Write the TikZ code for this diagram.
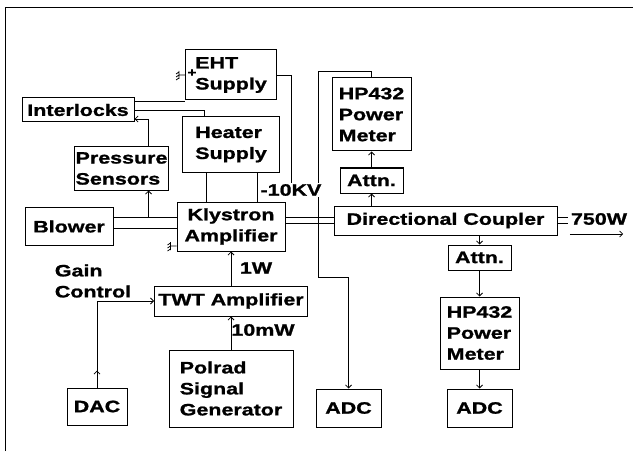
\documentclass[tikz,border=0pt]{standalone}
\usepackage{fontspec}
\newfontfamily\diagfont[FakeStretch=1.3,FakeBold=1.2]{Liberation Sans}
\usetikzlibrary{arrows.meta,calc,positioning}

\begin{document}
\begin{tikzpicture}[x=1pt,y=1pt,inner sep=1pt,font=\diagfont\bfseries\fontsize{16.5}{21}\selectfont,
    >={Straight Barb[length=3pt,width=6pt]},
    blk/.style={draw,line width=1pt,align=left},
    wire/.style={line width=.8pt},
    gnd/.pic={\draw[line width=.7pt] (0,0)--(-6,0) (-6,-4)--(-6,4) (-6,3)--(-9,1) (-6,0)--(-9,-2) (-6,-3)--(-9,-5);}]
        \useasboundingbox (0,0) rectangle (633,451);
        \draw[line width=.8pt] (5,0)--(5,444)--(633,444);
        \node[blk,align=center,minimum width=108pt,minimum height=49pt] (kly) at (231,224.5) {Klystron\\Amplifier};
        \node[blk,minimum width=97pt,minimum height=55pt,above=29pt of kly] (heat) {Heater\\Supply};
        \node[blk,minimum width=91pt,minimum height=50pt,above=16pt of heat] (eht) {EHT\\Supply};
        \node[blk,minimum width=153pt,minimum height=30pt,below=34pt of kly] (twt) {TWT Amplifier};
        \node[blk,minimum width=124pt,minimum height=77pt,below=33pt of twt] (pol) {Polrad\\Signal\\Generator};
        \node[blk,minimum width=88pt,minimum height=38pt,left=63pt of kly] (blow) {Blower};
        \node[blk,minimum width=93pt,minimum height=43pt] (pres) at (121.5,282.5) {Pressure\\Sensors};
        \node[blk,minimum width=112pt,minimum height=24pt] (intl) at (78,341) {Interlocks};
        \node[blk,minimum width=60pt,minimum height=37pt] (dac) at (97,44.5) {DAC};
        \node[blk,minimum width=223pt,minimum height=29pt,right=48pt of kly,yshift=6pt] (coup) {Directional Coupler};
        \node[blk,minimum width=63pt,minimum height=25pt] (att1) at (371.5,270.5) {Attn.};
        \node[blk,minimum width=79pt,minimum height=73pt,above=16pt of att1] (hp1) {HP432\\Power\\Meter};
        \node[blk,minimum width=63pt,minimum height=25pt] (att2) at (479.5,193.5) {Attn.};
        \node[blk,minimum width=79pt,minimum height=72pt,below=26pt of att2] (hp2) {HP432\\Power\\Meter};
        \node[blk,minimum width=65pt,minimum height=38pt,below=19pt of hp2] (adc2) {ADC};
        \node[blk,minimum width=65pt,minimum height=38pt,left=65pt of adc2] (adc1) {ADC};
        % return from the upper meter
        \coordinate (lp) at (318,174);
        \draw[wire,->] (hp1.north)--++(0,6)-|(lp)-|(adc1.north);
        \node[fill=white] (kv) at (291,261) {-10KV};
        \draw[wire] (eht.east)-|(kv.north);
        \pic at (eht.west) {gnd};
        \pic at ([yshift=-19.5pt]kly.west) {gnd};
        \node[font=\diagfont\bfseries\fontsize{12}{12}\selectfont] (plus) at ([xshift=7pt,yshift=2pt]eht.west) {+};
        \draw[wire] ([yshift=9pt]intl.east)--([yshift=9pt]intl.east-|eht.west);
        \draw[wire] (intl.east)-|([xshift=-27pt]heat.north);
        \draw[wire,->] ([xshift=27pt]pres.north)|-([yshift=-9pt]intl.east);
        \draw[wire] ([xshift=-25pt]heat.south)--([xshift=-25pt]heat.south|-kly.north);
        \draw[wire] ([xshift=26pt]heat.south)--([xshift=26pt]heat.south|-kly.north);
        \draw[wire] ([yshift=9.5pt]blow.east)--([yshift=9.5pt]blow.east-|kly.west);
        \draw[wire] ([yshift=-1.5pt]blow.east)--([yshift=-1.5pt]blow.east-|kly.west);
        \coordinate (tap) at ([xshift=35pt,yshift=9.5pt]blow.east);
        \draw[wire,->] (tap)--(tap|-pres.south);
        % waveguide
        \draw[wire] ([yshift=3pt]coup.west)--([yshift=3pt]coup.west-|kly.east);
        \draw[wire] ([yshift=-3pt]coup.west)--([yshift=-3pt]coup.west-|kly.east);
        \node (p750) at (599,232) {750W};
        \draw[wire] ([yshift=3pt]coup.east)--++(10,0); \draw[wire] ([yshift=-3pt]coup.east)--++(10,0);
        \draw[wire,->] ([yshift=-15pt]p750.west)--([yshift=-15pt,xshift=-5pt]p750.east);
        \draw[wire,->] (att1.south|-coup.north)--(att1.south); \draw[wire,->] (att1)--(hp1);
        \draw[wire,->] (att2.north|-coup.south)--(att2.north); \draw[wire,->] (att2)--(hp2); \draw[wire,->] (hp2)--(adc2);
        \draw[wire,->] (twt)--(kly); \draw[wire,->] (pol)--(twt);
        \draw[wire,->] (dac.north)|-(twt.west); \draw[wire,->] (dac.north)--++(0,17);
        \node (onew) at (256,183) {1W};
        \node (tenmw) at (263,121) {10mW};
        \node[align=left] (gain) at (93,170) {Gain\\Control};
      \end{tikzpicture}
\end{document}
